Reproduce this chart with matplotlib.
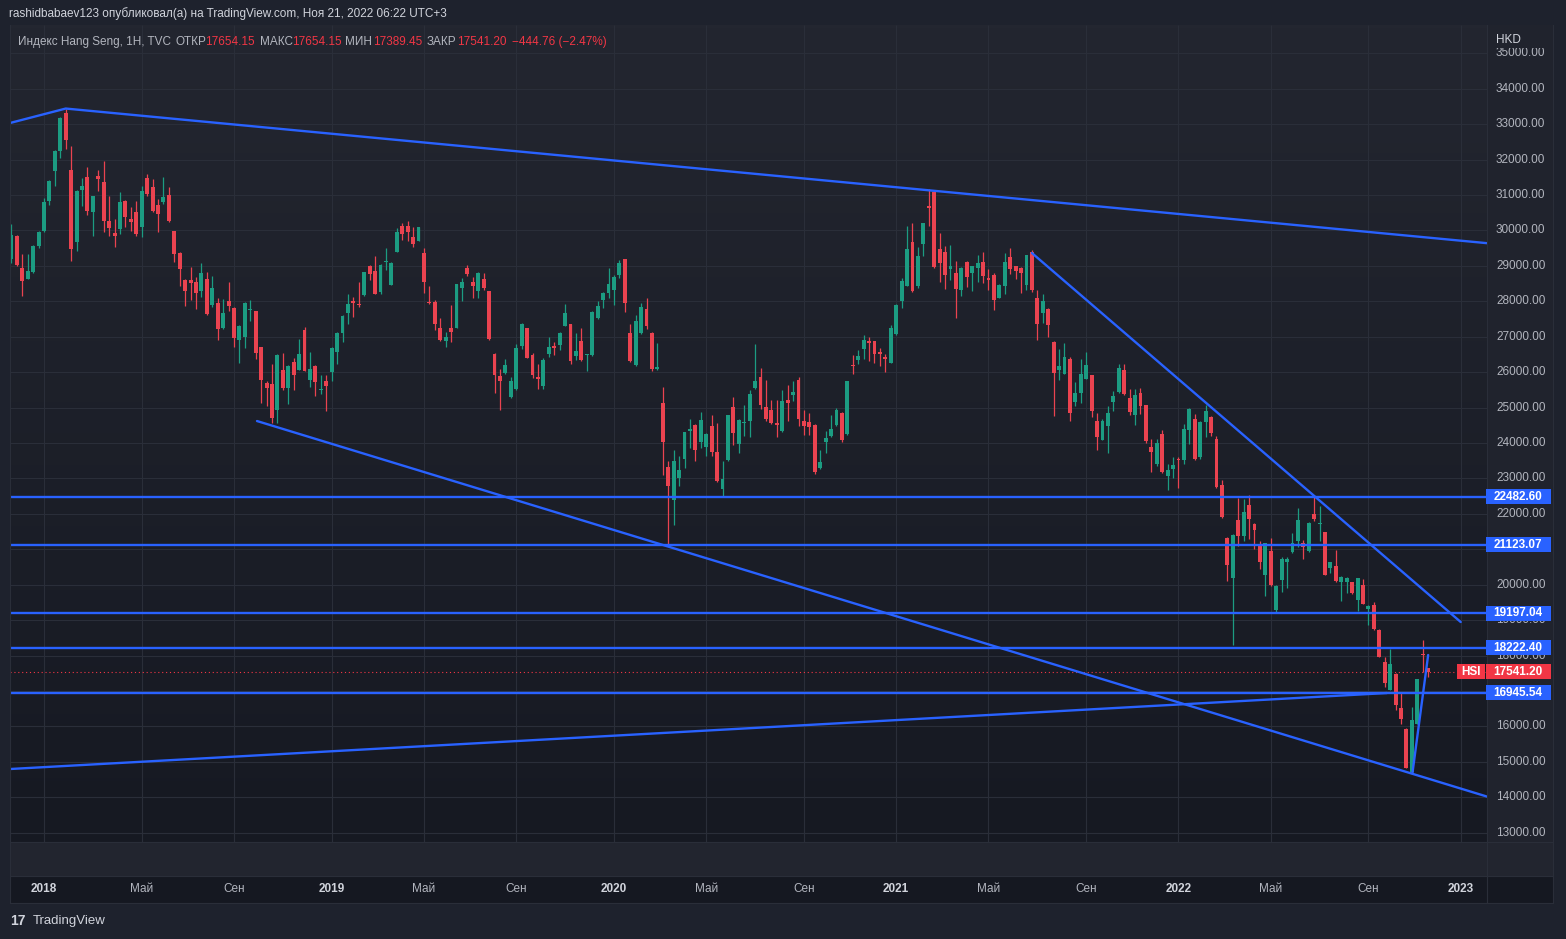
import matplotlib
matplotlib.use("Agg")
import matplotlib.pyplot as plt
from matplotlib.patches import Rectangle
from matplotlib.transforms import Bbox
import numpy as np
import pandas as pd

W, H = 1566, 939

# weekly bars: week of 20 Nov 2017 ... week of 21 Nov 2022
bar_dates = pd.date_range("2017-11-20", periods=262, freq="W-MON")

opens = [
    29197, 29855, 28943, 28633, 28840, 29573, 29976, 30840, 31685, 32249,
    33310, 31713, 29666, 31150, 31497, 30512, 31526, 31357, 30258, 29929,
    30042, 30840, 30324, 30512, 30089, 31479, 31216, 30728, 30812, 31000,
    29976, 29366, 28615, 28606, 28559, 28277, 28634, 27883, 27958, 27253,
    28014, 27807, 26911, 27005, 27760, 27724, 26702, 25690, 25662, 24933,
    26069, 25558, 26296, 26069, 27204, 25785, 26182, 25500, 25737, 26012,
    26561, 27109, 27677, 27998, 27932, 28169, 29001, 28869, 28263, 29100,
    28471, 29399, 30127, 30127, 29805, 29707, 29358, 27980, 27970, 27253,
    26875, 27234, 27253, 28386, 28952, 28537, 28291, 28622, 28291, 26507,
    25884, 25988, 25299, 25535, 26734, 27234, 26479, 25865, 25610, 26507,
    26715, 26762, 27300, 27357, 26451, 26885, 26490, 26479, 27517, 28036,
    28244, 28320, 28744, 29188, 27111, 26196, 27092, 27772, 27111, 26077,
    25135, 23333, 22400, 23013, 23550, 24352, 24512, 24022, 23899, 24474,
    23739, 22702, 23522, 25012, 23975, 24569, 24635, 25549, 25861, 25012,
    24937, 24569, 24352, 25219, 25342, 25766, 24616, 24588, 24522, 23286,
    24041, 24210, 24522, 24852, 24257, 26191, 26351, 26643, 26870, 26870,
    26549, 26426, 26266, 27068, 28001, 28435, 29680, 28435, 29604, 30670,
    31094, 29463, 29378, 28907, 28812, 28312, 29114, 28803, 28954, 29114,
    28661, 28756, 28096, 28435, 29237, 28991, 28944, 28473, 29378, 28096,
    27671, 27784, 26851, 26049, 25955, 26379, 25153, 25417, 25814, 25908,
    24635, 24097, 24474, 25153, 25436, 26049, 25276, 24795, 25423, 25066,
    23901, 23404, 24249, 23056, 23263, 23545, 23526, 24371, 24690, 23610,
    24596, 24737, 24108, 22822, 21310, 20192, 21826, 21385, 22249, 21714,
    21150, 20277, 20944, 19300, 20145, 20634, 20915, 21244, 21169, 20944,
    21995, 21714, 21479, 20474, 20540, 20089, 20070, 20070, 19573, 19995,
    19319, 19432, 18727, 17817, 17037, 17488, 16521, 15939, 14718, 16080,
    18023, 17654.15,
]
highs = [
    30183, 29870, 29338, 29338, 29600, 29995, 30925, 31430, 32280, 33200,
    33441, 32371, 31150, 31479, 31779, 30981, 31713, 31967, 30981, 30324,
    31075, 30860, 30653, 30840, 31263, 31591, 31451, 30887, 31498, 31216,
    29990, 29380, 28634, 28962, 28681, 29084, 28822, 28709, 28089, 28070,
    28558, 27830, 27330, 27980, 28046, 27740, 26720, 25756, 26229, 26500,
    26532, 26200, 26390, 26930, 27270, 26579, 26200, 25917, 25917, 26700,
    27120, 27600, 28216, 28121, 28547, 28840, 29020, 29266, 29050, 29493,
    29100, 30061, 30221, 30278, 30108, 30100, 29500, 28442, 28036, 27517,
    27140, 27895, 28490, 28650, 29028, 28697, 28820, 28792, 28300, 26554,
    26101, 26384, 25865, 26809, 27376, 27240, 26545, 26224, 26403, 26998,
    26838, 27120, 27914, 27370, 27111, 27234, 26520, 27720, 28008, 28260,
    28933, 28744, 29169, 29200, 27347, 27612, 27961, 28084, 27120, 26832,
    25578, 23500, 23814, 23626, 24320, 24682, 24530, 24889, 24270, 24795,
    24569, 23503, 24800, 25295, 24680, 25078, 25483, 26804, 26115, 25785,
    25219, 25219, 25502, 25625, 25747, 25861, 24946, 24842, 24540, 23805,
    24352, 24804, 24993, 24870, 25760, 26492, 26634, 27058, 26992, 26890,
    26681, 26521, 27341, 27935, 28671, 30132, 30198, 29519, 30210, 31170,
    31110, 29916, 29567, 29586, 29142, 28960, 29130, 29000, 29303, 29397,
    28925, 28812, 28490, 29350, 29491, 29005, 28960, 29320, 29444, 28331,
    28218, 27800, 26870, 26643, 26832, 26426, 25719, 26360, 26568, 25920,
    24842, 24682, 25059, 25455, 26238, 26238, 25512, 25531, 25550, 25080,
    24127, 24127, 24371, 23404, 23592, 23592, 24549, 24990, 24812, 24610,
    25066, 24750, 24202, 22962, 21357, 21430, 22446, 22418, 22530, 21730,
    21244, 21190, 21319, 19990, 20793, 20793, 21450, 22155, 21263, 21760,
    22465, 22211, 21490, 20650, 20981, 20240, 20230, 20080, 20190, 20164,
    19420, 19507, 18740, 17958, 18192, 17500, 16943, 15958, 16549, 17350,
    18446, 17654.15,
]
lows = [
    29084, 29010, 28164, 28633, 28800, 29507, 29950, 30718, 31244, 32033,
    32296, 29131, 29431, 30699, 30436, 29854, 31122, 29948, 29835, 29526,
    29901, 30089, 29995, 29854, 29807, 30981, 30512, 29967, 30746, 30250,
    29103, 28446, 27864, 28023, 27789, 28117, 27620, 27836, 26896, 27225,
    27732, 26709, 26248, 26683, 27440, 26371, 25142, 25047, 24574, 24574,
    25501, 25113, 25501, 26050, 26020, 25586, 25331, 25378, 24905, 25737,
    26229, 26863, 27346, 27554, 27828, 28150, 28594, 28200, 28216, 28878,
    28460, 29390, 29730, 29711, 29540, 29690, 28225, 27933, 27187, 26875,
    26715, 26838, 27240, 28008, 28726, 28103, 28084, 28320, 26904, 25422,
    24921, 25960, 25280, 25488, 26668, 26403, 25846, 25535, 25535, 26432,
    26498, 26620, 27290, 26224, 26337, 26318, 26026, 26470, 27500, 27800,
    28103, 27895, 28650, 27706, 26290, 26180, 27080, 27215, 26026, 26049,
    23100, 21139, 21700, 22777, 23296, 23862, 23503, 23862, 23626, 23626,
    22900, 22513, 23500, 23946, 23711, 24210, 24182, 25530, 24965, 24635,
    24541, 24182, 24305, 24635, 25182, 24493, 24239, 24239, 23126, 23270,
    23711, 24182, 24493, 24041, 24240, 25936, 26219, 26379, 26313, 26266,
    26172, 26002, 26250, 27050, 27813, 28420, 28270, 28388, 29284, 30132,
    28954, 28548, 28360, 28614, 27530, 28152, 28407, 28284, 28548, 28520,
    28312, 27747, 28080, 28218, 28784, 28643, 28237, 28312, 28265, 26898,
    27388, 26992, 24776, 25766, 25940, 24616, 25059, 25134, 25800, 24729,
    23805, 24080, 23711, 24899, 25420, 25342, 24795, 24512, 24812, 24014,
    23188, 23338, 23150, 22681, 23000, 22718, 23422, 23967, 23516, 23563,
    24174, 24202, 22718, 21873, 20117, 18286, 21103, 21244, 21291, 21009,
    20446, 19695, 19976, 19244, 19807, 19911, 20900, 21056, 20727, 20915,
    21807, 21244, 20277, 20324, 20090, 19554, 19760, 19742, 19272, 19450,
    18850, 18730, 17950, 17112, 17019, 16455, 16080, 14820, 14699, 16070,
    17535, 17389.45,
]
closes = [
    29873, 29037, 28587, 28868, 29573, 29948, 30812, 31404, 32249, 33160,
    32549, 29478, 31122, 31244, 30558, 30981, 31451, 30277, 30070, 29835,
    30793, 30390, 30230, 29901, 31113, 31028, 30558, 30465, 30934, 30277,
    29328, 28915, 28305, 28512, 28230, 28803, 27648, 28371, 27206, 27676,
    27864, 26962, 27317, 27961, 27790, 26541, 25785, 25548, 24697, 26485,
    25558, 26182, 25917, 26513, 26040, 26088, 25709, 25530, 25614, 26683,
    27109, 27592, 27932, 27951, 27885, 28831, 28784, 28216, 29039, 29130,
    29086, 29947, 29890, 29966, 29607, 30085, 28556, 27940, 27347, 26904,
    26998, 27140, 28480, 28556, 28763, 28442, 28792, 28386, 26923, 25931,
    25752, 26196, 25743, 26696, 27357, 26413, 25913, 25818, 26337, 26715,
    26696, 27111, 27659, 26309, 26611, 26337, 26507, 27706, 27876, 28244,
    28480, 28678, 29075, 27942, 26309, 27442, 27848, 27300, 26101, 26144,
    24041, 22796, 23484, 23239, 24305, 24399, 23805, 24663, 24257, 23739,
    22919, 22985, 24795, 24286, 24663, 24597, 25389, 25738, 25078, 24682,
    24569, 24522, 25182, 25125, 25436, 24682, 24493, 24465, 23173, 23456,
    24135, 24399, 24946, 24097, 25738, 26172, 26455, 26917, 26832, 26502,
    26521, 26379, 27256, 27888, 28576, 29472, 28284, 29284, 30198, 30642,
    28973, 29095, 28737, 29001, 28341, 28944, 28690, 28991, 29086, 28718,
    28595, 28048, 28473, 29114, 28907, 28859, 28803, 29303, 28312, 27351,
    28011, 27322, 25974, 26172, 26426, 24852, 25417, 25936, 26191, 24918,
    24182, 24616, 24852, 25323, 26125, 25389, 24870, 25342, 25047, 24061,
    23751, 23995, 23188, 23235, 23376, 23526, 24390, 24972, 23545, 24596,
    24906, 24296, 22765, 21901, 20568, 21413, 21385, 22061, 21854, 21554,
    20652, 21178, 20005, 19976, 20727, 20727, 21169, 21826, 21056, 21742,
    21854, 21742, 20286, 20634, 20098, 20230, 20192, 19770, 20183, 19460,
    19413, 18737, 17958, 17235, 17770, 16615, 16220, 14830, 16173, 17347,
    18004, 17541.20,
]

levels = [22482.60, 21123.07, 19197.04, 18222.40, 16945.54]
last_price = 17541.20

# hand-drawn lines as (bar index, price) anchors
trend_top = [(-0.26, 33033), (10, 33441), (271.84, 29641)]
trend_bottom = [(45.24, 24621), (271.84, 14021)]
trend_down = [(188.0, 29363), (267.0, 18948)]
trend_rise = [(-0.26, 14799), (253.4, 16944)]
trend_rebound = [(258.1, 14678), (261.0, 18017)]

month_labels = ["2018", "Май", "Сен", "2019", "Май", "Сен", "2020", "Май", "Сен",
                "2021", "Май", "Сен", "2022", "Май", "Сен", "2023"]
month_starts = ["2018-01-01", "2018-05-01", "2018-09-01", "2019-01-01", "2019-05-01",
                "2019-09-01", "2020-01-01", "2020-05-01", "2020-09-01", "2021-01-01",
                "2021-05-01", "2021-09-01", "2022-01-01", "2022-05-01", "2022-09-01",
                "2023-01-01"]
price_ticks = list(range(13000, 36000, 1000))

UP, DOWN, BLUE = "#1c9c82", "#ea4350", "#2962ff"
TXT, TXT2 = "#d1d4dc", "#b2b5be"

plt.rcParams["font.family"] = ["Liberation Sans", "DejaVu Sans"]

fig = plt.figure(figsize=(W / 100, H / 100), dpi=100)
fig.patch.set_facecolor("#1e222d")


def px_axes(x0, y0, x1, y1):
    return fig.add_axes([x0 / W, 1 - y1 / H, (x1 - x0) / W, (y1 - y0) / H])


# ---------- price pane ----------
ax = px_axes(10, 25, 1487, 842)
X0, X1, Y0, Y1 = -0.263, 271.84, 12739, 35799
ax.set_xlim(X0, X1)
ax.set_ylim(Y0, Y1)
ax.axis("off")

g = np.linspace(0, 1, 256)[:, None, None]
top_c = np.array([35, 38, 48]) / 255
bot_c = np.array([22, 25, 34]) / 255
ax.imshow(top_c + (bot_c - top_c) * g, extent=[X0, X1, Y0, Y1], aspect="auto",
          origin="upper", zorder=0)

start = bar_dates[0]
tick_idx = [int(np.ceil((pd.Timestamp(m) - start).days / 7)) for m in month_starts]

ax.hlines(price_ticks, X0, X1, color="#2a2e39", lw=0.8, zorder=1)
ax.vlines(tick_idx, Y0, Y1, color="#2a2e39", lw=0.8, zorder=1)

idx = np.arange(len(closes))
o = np.array(opens, float)
c = np.array(closes, float)
cols = [UP if cc >= oo else DOWN for oo, cc in zip(o, c)]
ax.vlines(idx, lows, highs, colors=cols, lw=0.9, zorder=3)
body_h = np.maximum(np.abs(c - o), 35)
ax.bar(idx, body_h, bottom=np.minimum(o, c), width=0.72, color=cols,
       linewidth=0, zorder=4)

ax.hlines(last_price, X0, X1, color="#f23645", lw=0.8, linestyles=(0, (1, 2.5)), zorder=2)
ax.hlines(levels, X0, X1, color=BLUE, lw=1.7, zorder=5)
for line in (trend_top, trend_bottom, trend_down, trend_rise, trend_rebound):
    xs, ys = zip(*line)
    ax.plot(xs, ys, color=BLUE, lw=1.7, zorder=5, solid_capstyle="round")

# ---------- overlay in pixel coordinates ----------
ov = fig.add_axes([0, 0, 1, 1])
ov.set_xlim(0, W)
ov.set_ylim(H, 0)
ov.axis("off")


def ypx(p):
    return H - ax.transData.transform((0, p))[1]


def xpx(i):
    return ax.transData.transform((i, 0))[0]


# frame pieces
ov.add_patch(Rectangle((1487, 25), 66, 817, fc="#20232d", ec="none", zorder=1))
ov.add_patch(Rectangle((10, 842), 1543, 34, fc="#22252f", ec="none", zorder=1))
ov.add_patch(Rectangle((10, 876), 1543, 27, fc="#151821", ec="none", zorder=1))
for yy in (842, 876, 903):
    ov.plot([10, 1553], [yy, yy], color="#2a2e39", lw=0.8, zorder=2)
for xx in (10, 1487, 1553):
    ov.plot([xx, xx], [25, 903], color="#2a2e39", lw=0.8, zorder=2)

# price scale; labels under the level boxes are hidden or cut like in the app
box_ys = [ypx(v) for v in levels + [last_price]]
for p in price_ticks:
    y = ypx(p)
    near = min(box_ys, key=lambda b: abs(b - y))
    d = y - near
    if abs(d) < 6:
        continue
    t = ov.text(1496, y, f"{p}.00", color=TXT2, fontsize=8.5, va="center",
                ha="left", zorder=3)
    if abs(d) < 15:
        # keep only the part outside the box
        if d > 0:
            top_px, bot_px = near + 7.5, near + 30
        else:
            top_px, bot_px = near - 30, near - 7.5
        t.set_clip_box(Bbox.from_extents(1487, H - bot_px, 1553, H - top_px))
        t.set_clip_on(True)
ov.add_patch(Rectangle((1488, 26), 64, 22, fc="#20232d", ec="none", zorder=4))
ov.text(1496, 40, "HKD", color=TXT, fontsize=8.5, va="center", ha="left", zorder=5)

for lv in levels:
    y = ypx(lv)
    ov.add_patch(Rectangle((1486, y - 7.5), 64.5, 15, fc=BLUE, ec="none", zorder=6))
    ov.text(1518.2, y, f"{lv:.2f}", color="white", fontsize=8.5, weight="bold",
            va="center", ha="center", zorder=7)

y = ypx(last_price)
ov.add_patch(Rectangle((1457, y - 7.5), 27.5, 15, fc="#f23645", ec="none", zorder=6))
ov.text(1470.7, y, "HSI", color="white", fontsize=8.5, weight="bold",
        va="center", ha="center", zorder=7)
ov.add_patch(Rectangle((1486, y - 7.5), 64.5, 15, fc="#f23645", ec="none", zorder=6))
ov.text(1518.2, y, f"{last_price:.2f}", color="white", fontsize=8.5, weight="bold",
        va="center", ha="center", zorder=7)

# time scale
for lab, ti in zip(month_labels, tick_idx):
    is_year = lab.isdigit()
    ov.text(xpx(ti), 889.5, lab, color=TXT if is_year else TXT2, fontsize=8.5,
            weight="bold" if is_year else "normal", va="center", ha="center", zorder=3)

# header and legend
ov.text(9, 14, "rashidbabaev123 опубликовал(а) на TradingView.com, Ноя 21, 2022 06:22 UTC+3",
        color=TXT, fontsize=8.5, va="center", ha="left")
legend = [
    (18, "Индекс Hang Seng, 1H, TVC", TXT2),
    (175, "ОТКР", TXT2), (205, "17654.15", "#f23645"),
    (260, "МАКС", TXT2), (292, "17654.15", "#f23645"),
    (345, "МИН", TXT2), (373, "17389.45", "#f23645"),
    (427, "ЗАКР", TXT2), (457, "17541.20", "#f23645"),
    (512, "−444.76 (−2.47%)", "#f23645"),
]
for lx, s, col in legend:
    ov.text(lx, 42, s, color=col, fontsize=8.5, va="center", ha="left", zorder=3)

# watermark
ov.text(10, 921, "17", color=TXT, fontsize=10, weight="heavy",
        va="center", ha="left")
ov.text(33, 921, "TradingView", color=TXT, fontsize=9.5, va="center", ha="left")

fig.savefig("out.png", dpi=100, facecolor=fig.get_facecolor())
